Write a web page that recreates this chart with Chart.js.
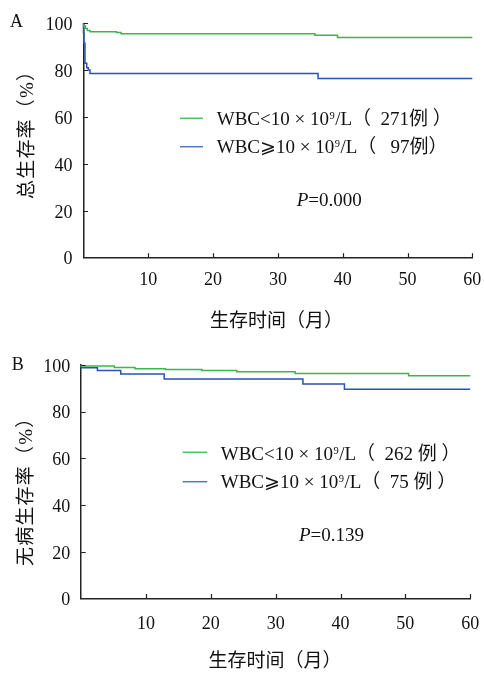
<!DOCTYPE html>
<html>
<head>
<meta charset="utf-8">
<script src="https://cdn.jsdelivr.net/npm/chart.js@4.4.1/dist/chart.umd.min.js"></script>
<style>
  html, body { margin: 0; padding: 0; background: #fff; }
  #wrap { position: relative; width: 484px; height: 674px; }
  #osChart { position: absolute; left: 0; top: 0; }
  #dfsChart { position: absolute; left: 0; top: 340px; }
</style>
</head>
<body>
<div id="wrap">
  <canvas id="osChart" width="484" height="340"></canvas>
  <canvas id="dfsChart" width="484" height="334"></canvas>
</div>
<script>
// Axis ticks shared by both panels
const xTicks = [0, 10, 20, 30, 40, 50, 60];
const xTickLabels = ['', '10', '20', '30', '40', '50', '60'];
const yTicks = [0, 20, 40, 60, 80, 100];
const yTickLabels = ['0', '20', '40', '60', '80', '100'];

// Panel A: overall survival (%), Kaplan-Meier steps (month, survival after step)
const osLowMonths  = [0, 0.3, 0.6, 1.0, 5.1, 5.8, 35.7, 39.2, 56.0, 60];
const osLowPct     = [100, 98.8, 97.8, 96.9, 96.4, 96.1, 95.5, 94.9, 93.9, 93.9];
const osHighMonths = [0, 0.05, 0.23, 0.5, 0.74, 1.0, 36.2, 46.3, 60];
const osHighPct    = [100, 96, 91.5, 83, 81, 80.1, 78.6, 76.5, 76.5];

// Panel B: disease-free survival (%)
const dfsLowMonths  = [0, 5.1, 8.3, 13.0, 18.6, 24.0, 33.0, 50.5, 58.9, 60];
const dfsLowPct     = [100, 99.6, 98.9, 98.4, 98.1, 97.6, 97.1, 96.4, 95.4, 95.4];
const dfsHighMonths = [0, 2.5, 6.1, 12.8, 34.2, 40.6, 44.7, 60];
const dfsHighPct    = [100, 98.8, 97.6, 96.1, 94.0, 91.9, 89.6, 89.6];

// Legend and annotation texts ('^' marks a superscript character)
const osLegend  = ['WBC<10 × 10^9/L（  271例 ）', 'WBC⩾10 × 10^9/L（   97例）'];
const dfsLegend = ['WBC<10 × 10^9/L（  262 例 ）', 'WBC⩾10 × 10^9/L（  75 例 ）'];
const osPValue  = '0.000';
const dfsPValue = '0.139';
const osYTitle  = '总生存率（%）';
const dfsYTitle = '无病生存率（%）';
const xTitle    = '生存时间（月）';

const SERIF = "'Liberation Serif', 'Noto Sans CJK SC', serif";
const CJK = "'Noto Sans CJK SC', 'Liberation Serif', sans-serif";
const GREEN = '#3db54a', BLUE = '#2a52b0';
const GREEN_KEY = '#4fc257', BLUE_KEY = '#5478c4';
const INK = '#111';

function series(months, pct) {
  return months.map((m, i) => ({ x: m, y: pct[i] }));
}

// Text with an optional single superscript character after '^'
function drawRich(ctx, str, x, baseline, size) {
  const parts = str.split('^');
  ctx.textAlign = 'left';
  ctx.textBaseline = 'alphabetic';
  ctx.font = size + 'px ' + SERIF;
  ctx.fillText(parts[0], x, baseline);
  x += ctx.measureText(parts[0]).width;
  if (parts.length > 1) {
    const sup = parts[1].charAt(0);
    const rest = parts[1].slice(1);
    ctx.font = (size * 0.55) + 'px ' + SERIF;
    ctx.fillText(sup, x + 0.5, baseline - size * 0.33);
    x += ctx.measureText(sup).width + 1;
    ctx.font = size + 'px ' + SERIF;
    ctx.fillText(rest, x, baseline);
  }
}

function annotate(p) {
  return {
    id: 'annot',
    afterDraw(chart) {
      const ctx = chart.ctx;
      const xs = chart.scales.x, ys = chart.scales.y;
      const a = chart.chartArea;
      ctx.save();
      // inward tick marks
      ctx.strokeStyle = '#222';
      ctx.lineWidth = 1.2;
      ctx.beginPath();
      xTicks.forEach(v => {
        if (v === 0) return;
        const px = Math.round(xs.getPixelForValue(v)) + 0.5;
        ctx.moveTo(px, a.bottom);
        ctx.lineTo(px, a.bottom - 4.5);
      });
      yTicks.forEach(v => {
        if (v === 0) return;
        const py = Math.round(ys.getPixelForValue(v)) + 0.5;
        ctx.moveTo(a.left, py);
        ctx.lineTo(a.left + 4.5, py);
      });
      ctx.stroke();

      ctx.fillStyle = INK;
      // panel letter
      ctx.font = '18px ' + SERIF;
      ctx.textAlign = 'left';
      ctx.textBaseline = 'alphabetic';
      ctx.fillText(p.letter, p.letterX, p.letterY);

      // legend keys and labels
      const colors = [GREEN_KEY, BLUE_KEY];
      p.legend.forEach((txt, i) => {
        ctx.strokeStyle = colors[i];
        ctx.lineWidth = 1.5;
        ctx.beginPath();
        ctx.moveTo(p.keyX0, p.keyY[i]);
        ctx.lineTo(p.keyX1, p.keyY[i]);
        ctx.stroke();
        drawRich(ctx, txt, p.textX, p.textY[i], 19);
      });

      // log-rank P value
      ctx.textAlign = 'left';
      ctx.textBaseline = 'alphabetic';
      ctx.font = 'italic 19px ' + SERIF;
      ctx.fillText('P', p.pX, p.pY);
      const w = ctx.measureText('P').width;
      ctx.font = '19px ' + SERIF;
      ctx.fillText('=' + p.pValue, p.pX + w, p.pY);

      // axis titles
      ctx.font = '19px ' + CJK;
      ctx.textAlign = 'center';
      ctx.textBaseline = 'middle';
      ctx.fillText(xTitle, p.xTitleX, p.xTitleY);

      ctx.save();
      ctx.translate(p.yTitleX, p.yTitleY);
      ctx.rotate(-Math.PI / 2);
      ctx.font = '19px ' + SERIF;
      ctx.letterSpacing = '1.2px';
      ctx.textAlign = 'left';
      ctx.textBaseline = 'middle';
      ctx.fillText(p.yTitle, 0, 0);
      ctx.restore();

      ctx.restore();
    }
  };
}

function makeChart(id, p) {
  return new Chart(document.getElementById(id), {
    type: 'line',
    data: {
      datasets: [
        { data: series(p.lowMonths, p.lowPct), borderColor: GREEN, borderWidth: 1.5,
          stepped: 'after', pointRadius: 0, fill: false, clip: 6 },
        { data: series(p.highMonths, p.highPct), borderColor: BLUE, borderWidth: 1.5,
          stepped: 'after', pointRadius: 0, fill: false, clip: 6 }
      ]
    },
    options: {
      responsive: false,
      animation: false,
      events: [],
      layout: { padding: { left: 0, right: p.padRight, top: p.padTop, bottom: 0 } },
      plugins: { legend: { display: false }, tooltip: { enabled: false } },
      scales: {
        x: {
          type: 'linear', min: 0, max: 60,
          afterBuildTicks: s => { s.ticks = xTicks.map(v => ({ value: v })); },
          afterFit: s => {
            s.height = p.xAxisHeight;
            s.paddingLeft = 0; s.paddingRight = 0;
          },
          ticks: {
            autoSkip: false, maxRotation: 0, padding: p.xTickPad,
            color: INK, font: { family: SERIF, size: 18 },
            callback: (v, i) => xTickLabels[i]
          },
          grid: { display: true, drawOnChartArea: false, drawTicks: false },
          border: { display: true, color: '#222', width: 1.5 }
        },
        y: {
          type: 'linear', min: 0, max: 100,
          afterBuildTicks: s => { s.ticks = yTicks.map(v => ({ value: v })); },
          afterFit: s => {
            s.width = p.yAxisWidth;
            s.paddingTop = 0; s.paddingBottom = 0;
          },
          ticks: {
            autoSkip: false, padding: 11, labelOffset: 2,
            color: INK, font: { family: SERIF, size: 18 },
            callback: (v, i) => yTickLabels[i]
          },
          grid: { display: true, drawOnChartArea: false, drawTicks: false },
          border: { display: true, color: '#222', width: 1.5 }
        }
      }
    },
    plugins: [annotate(p)]
  });
}

makeChart('osChart', {
  lowMonths: osLowMonths, lowPct: osLowPct, highMonths: osHighMonths, highPct: osHighPct,
  yAxisWidth: 83.5, padRight: 11.7, padTop: 23.3, xAxisHeight: 82.3, xTickPad: 12,
  letter: 'A', letterX: 10, letterY: 27,
  legend: osLegend, keyX0: 180, keyX1: 203, keyY: [118.3, 146.7],
  textX: 216.7, textY: [125, 153.3],
  pValue: osPValue, pX: 296.7, pY: 206,
  yTitle: osYTitle, yTitleX: 28, yTitleY: 199,
  xTitleX: 276.5, xTitleY: 320
});

makeChart('dfsChart', {
  lowMonths: dfsLowMonths, lowPct: dfsLowPct, highMonths: dfsHighMonths, highPct: dfsHighPct,
  yAxisWidth: 81.2, padRight: 13.8, padTop: 25, xAxisHeight: 75.5, xTickPad: 15,
  letter: 'B', letterX: 11.7, letterY: 30,
  legend: dfsLegend, keyX0: 182.7, keyX1: 207.3, keyY: [112.3, 141.7],
  textX: 220.7, textY: [120, 148.3],
  pValue: dfsPValue, pX: 299, pY: 201,
  yTitle: dfsYTitle, yTitleX: 27, yTitleY: 226,
  xTitleX: 275, xTitleY: 320
});
</script>
</body>
</html>
